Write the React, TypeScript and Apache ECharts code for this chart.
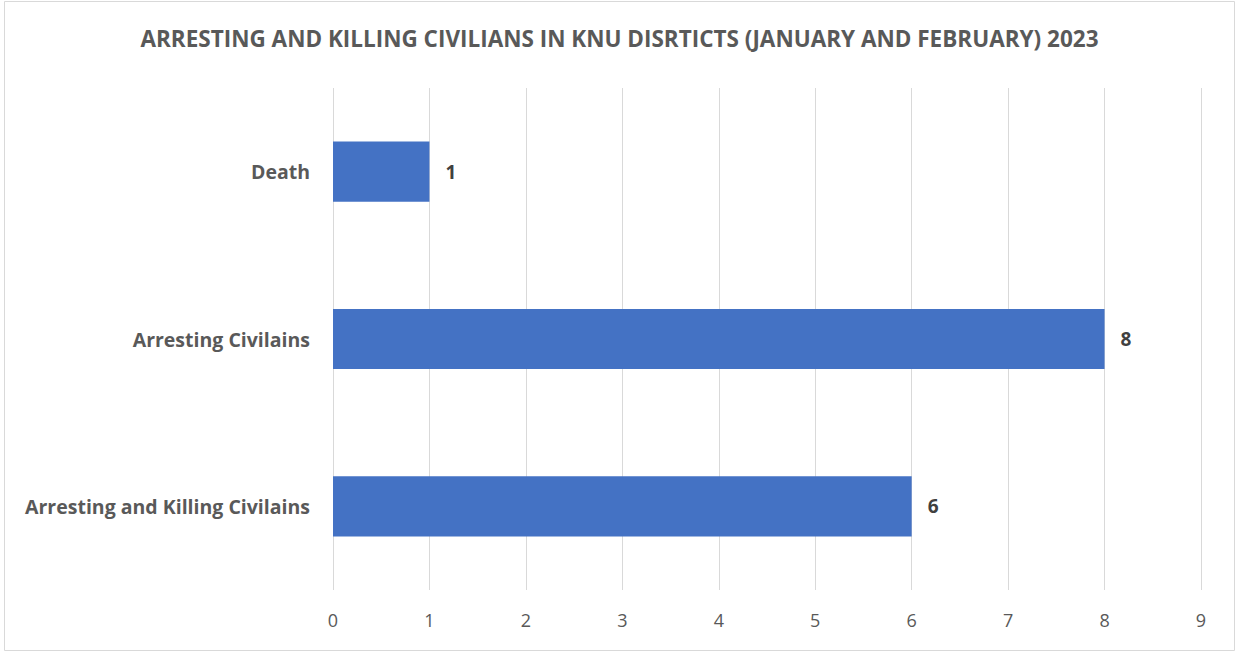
import React, { useEffect, useRef } from "react";
import * as echarts from "echarts";

const categories = ["Arresting and Killing Civilains", "Arresting Civilains", "Death"];
const values = [6, 8, 1];
const title = "ARRESTING AND KILLING CIVILIANS IN KNU DISRTICTS (JANUARY AND FEBRUARY) 2023";

export default function App() {
  const ref = useRef<HTMLDivElement>(null);
  useEffect(() => {
    const chart = echarts.init(ref.current!, null, { renderer: "svg" });
    const font = "'Open Sans', 'Noto Sans', sans-serif";
    chart.setOption({
      animation: false,
      backgroundColor: "#ffffff",
      textStyle: { fontFamily: font },
      title: {
        text: title,
        left: "center",
        top: 22,
        textStyle: { fontSize: 22.5, fontWeight: "bold", color: "#595959", fontFamily: font },
      },
      graphic: [
        {
          type: "rect",
          shape: { x: 4.5, y: 1.5, width: 1230, height: 649 },
          style: { fill: "none", stroke: "#d9d9d9", lineWidth: 1 },
          silent: true,
        },
      ],
      grid: { left: 333, right: 38, top: 88, bottom: 62, containLabel: false },
      xAxis: {
        type: "value",
        min: 0,
        max: 9,
        interval: 1,
        axisLine: { show: false },
        axisTick: { show: false },
        axisLabel: { color: "#595959", fontSize: 18, margin: 21, fontFamily: font },
        splitLine: { show: true, lineStyle: { color: "#d9d9d9", width: 1 } },
      },
      yAxis: {
        type: "category",
        data: categories,
        axisLine: { show: false },
        axisTick: { show: false },
        axisLabel: { color: "#595959", fontSize: 19.5, fontWeight: "bold", margin: 23, fontFamily: font },
      },
      series: [
        {
          type: "bar",
          data: values,
          barWidth: "36%",
          itemStyle: { color: "#4472c4" },
          label: {
            show: true,
            position: "right",
            distance: 16,
            color: "#404040",
            fontSize: 19,
            fontWeight: "bold",
            fontFamily: font,
          },
        },
      ],
    });
    return () => chart.dispose();
  }, []);
  return (
    <div
      ref={ref}
      style={{ position: "absolute", left: 0, top: 0, width: 1239, height: 652 }}
    />
  );
}
